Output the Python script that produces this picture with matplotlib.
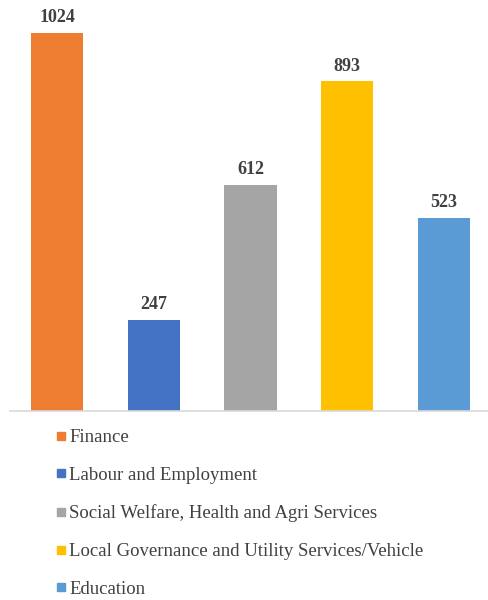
import matplotlib
matplotlib.use("Agg")
import matplotlib.pyplot as plt
from matplotlib.lines import Line2D

# Complaints per department
departments = [
    "Finance",
    "Labour and Employment",
    "Social Welfare, Health and Agri Services",
    "Local Governance and Utility Services/Vehicle",
    "Education",
]
counts = [1024, 247, 612, 893, 523]
colors = ["#ED7D31", "#4472C4", "#A5A5A5", "#FFC000", "#5B9BD5"]

plt.rcParams["font.family"] = ["Liberation Serif", "DejaVu Serif"]

fig = plt.figure(figsize=(4.89, 6.0), dpi=100)
ax = fig.add_axes([10 / 489, 0.315, 1 - 10 / 489, 0.6765])

x = list(range(len(counts)))
bars = ax.bar(x, counts, width=0.54, color=colors)

# value labels above each bar
for xi, v in zip(x, counts):
    ax.annotate(str(v), (xi, v), xytext=(0, 5), textcoords="offset points",
                ha="center", va="bottom", fontsize=13, fontweight="bold",
                color="#404040")

ax.set_xlim(-0.49, 4.47)
ax.set_ylim(0, 1100)
for side in ["top", "right", "left"]:
    ax.spines[side].set_visible(False)
ax.spines["bottom"].set_color("#D9D9D9")
ax.spines["bottom"].set_linewidth(1.2)
ax.set_xticks([])
ax.set_yticks([])

handles = [Line2D([], [], marker="s", linestyle="none", markersize=6,
                  markerfacecolor=c, markeredgecolor=c) for c in colors]
fig.legend(handles, departments, loc="upper left",
           bbox_to_anchor=(55 / 489, 1 - 429 / 600), frameon=False,
           fontsize=13.5, handlelength=0.6, handletextpad=0.15,
           labelspacing=1.1, borderpad=0, borderaxespad=0,
           labelcolor="#404040")

fig.savefig("out.png", dpi=100)
